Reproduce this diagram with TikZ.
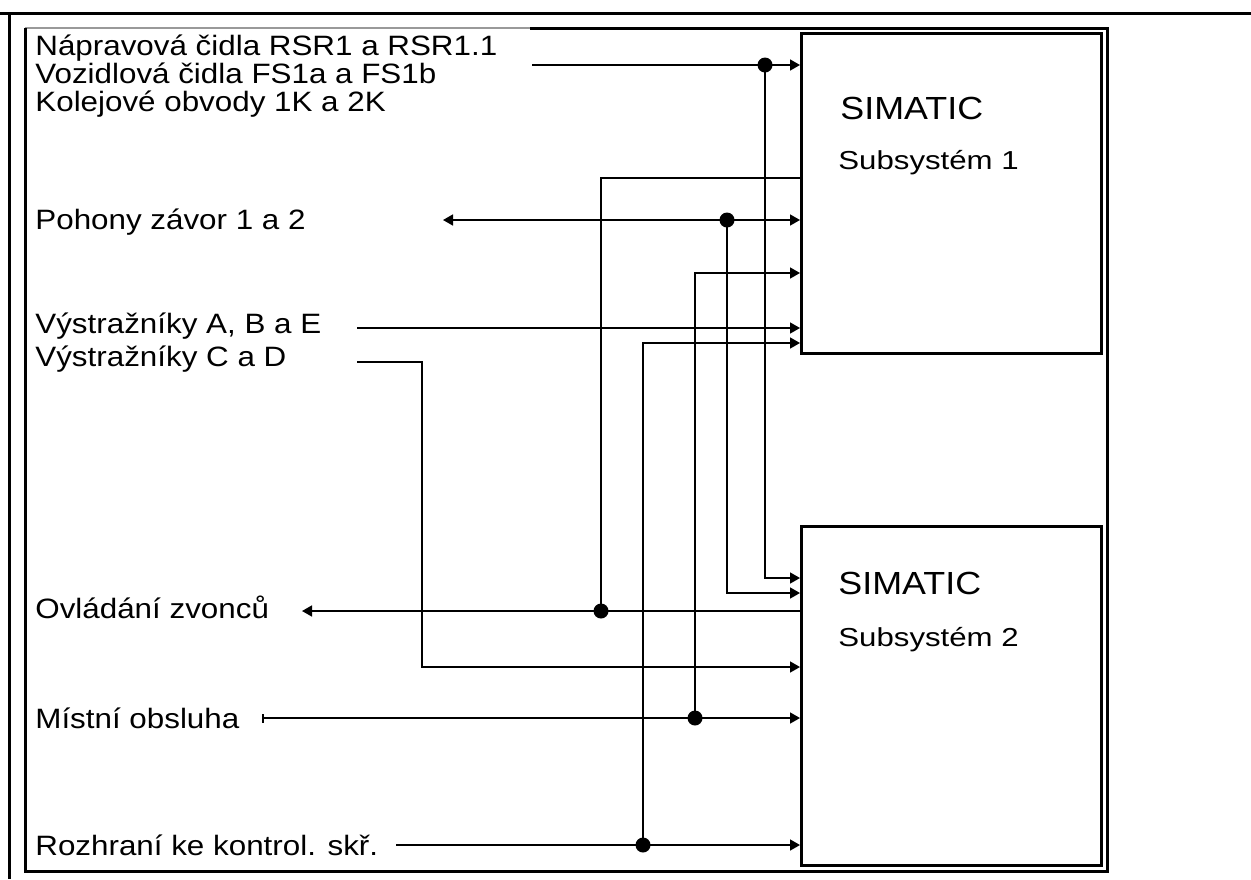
\documentclass[tikz,border=0pt]{standalone}
\usepackage{fontspec}
\setmainfont[FakeStretch=1.12]{Liberation Sans}
\newfontfamily\simfont[FakeStretch=1.12]{Liberation Sans}
\newfontfamily\subfont[FakeStretch=1.2]{Liberation Sans}
\usetikzlibrary{arrows.meta}
\begin{document}
\begin{tikzpicture}[x=0.5pt,y=-0.5pt,
  lbl/.style={anchor=base west,inner sep=0pt,font=\fontsize{14}{16}\selectfont},
  simlbl/.style={anchor=base west,inner sep=0pt,font=\simfont\fontsize{16}{18}\selectfont},
  sublbl/.style={anchor=base west,inner sep=0pt,font=\subfont\fontsize{13}{15}\selectfont},
  simbox/.style={draw,line width=1.5pt,minimum width=150pt,inner sep=0pt},
  conn/.style={line width=0.8pt},
  tip/.style={-{Triangle[length=5pt,width=5.5pt]}},
  twotip/.style={{Triangle[length=5pt,width=5.5pt]}-{Triangle[length=5pt,width=5.5pt]}},
  bartip/.style={{Bar[width=4.5pt]}-{Triangle[length=5pt,width=5.5pt]}},
  jdot/.style={circle,fill,inner sep=0pt,minimum size=7.5pt},
  frameline/.style={line width=1.5pt},
]
\useasboundingbox (0,0) rectangle (1251,879);
% outer lines
\coordinate (o1) at (0,13); \coordinate (o2) at (1251,13);
\coordinate (o3) at (9,13); \coordinate (o4) at (9,879);
\draw[frameline] (o1) -- (o2);
\draw[frameline] (o3) -- (o4);
% inner frame
\coordinate (f1) at (25,28); \coordinate (f2) at (530,28);
\coordinate (f3) at (1107,28); \coordinate (f4) at (1107,871);
\coordinate (f5) at (25,871);
\draw[line width=1pt,gray!80] (f1) -- (f2);
\draw[frameline] (f2) -- (f3) -- (f4) -- (f5) -- (f1);
% boxes
\node[simbox,minimum height=160pt] (s1) at (951.5,193.5) {};
\node[simbox,minimum height=169.5pt] (s2) at (951.5,696) {};
\node[simlbl] (t1) at (840,119) {SIMATIC};
\node[sublbl] (t2) at (838,169) {Subsystém 1};
\node[simlbl] (t3) at (838,594) {SIMATIC};
\node[sublbl] (t4) at (838,646) {Subsystém 2};
% labels
\node[lbl] (l1) at (35,55) {Nápravová čidla RSR1 a RSR1.1};
\node[lbl] (l2) at (35,83) {Vozidlová čidla FS1a a FS1b};
\node[lbl] (l3) at (35,111) {Kolejové obvody 1K a 2K};
\node[lbl] (l4) at (35,229) {Pohony závor 1 a 2};
\node[lbl] (l5) at (35,333) {Výstražníky A, B a E};
\node[lbl] (l6) at (35,366) {Výstražníky C a D};
\node[lbl] (l7) at (35,618) {Ovládání zvonců};
\node[lbl] (l8) at (35,728) {Místní obsluha};
\node[lbl] (l9) at (35,855) {Rozhraní ke kontrol. skř.};
% connector points
\coordinate (a1) at (532,65);  \coordinate (j1) at (765,65);  \coordinate (b1) at (765,578);
\coordinate (c1) at (601,178); \coordinate (j2) at (601,611); \coordinate (a7) at (302,611);
\coordinate (a4) at (443,220); \coordinate (j3) at (727,220); \coordinate (b3) at (727,593);
\coordinate (j4) at (695,718); \coordinate (b4) at (695,273);
\coordinate (a5) at (357,328);
\coordinate (j5) at (643,845); \coordinate (b5) at (643,343);
\coordinate (a6) at (357,362); \coordinate (b6) at (422,362); \coordinate (b7) at (422,667);
\coordinate (a8) at (262,718);
\coordinate (a9) at (396,845);
% connectors
\draw[conn,tip] (a1) -- (a1 -| s1.west);
\draw[conn,tip] (j1) -- (b1) -- (b1 -| s2.west);
\draw[conn] (c1 -| s1.west) -- (c1) -- (j2);
\draw[conn,tip] (j2 -| s2.west) -- (a7);
\draw[conn,twotip] (a4) -- (a4 -| s1.west);
\draw[conn,tip] (j3) -- (b3) -- (b3 -| s2.west);
\draw[conn,tip] (j4) -- (b4) -- (b4 -| s1.west);
\draw[conn,tip] (a5) -- (a5 -| s1.west);
\draw[conn,tip] (j5) -- (b5) -- (b5 -| s1.west);
\draw[conn,tip] (a6) -- (b6) -- (b7) -- (b7 -| s2.west);
\draw[conn,bartip] (a8) -- (a8 -| s2.west);
\draw[conn,tip] (a9) -- (a9 -| s2.west);
% junction dots
\node[jdot] (d1) at (j1) {};
\node[jdot] (d2) at (j2) {};
\node[jdot] (d3) at (j3) {};
\node[jdot] (d4) at (j4) {};
\node[jdot] (d5) at (j5) {};
\end{tikzpicture}
\end{document}
